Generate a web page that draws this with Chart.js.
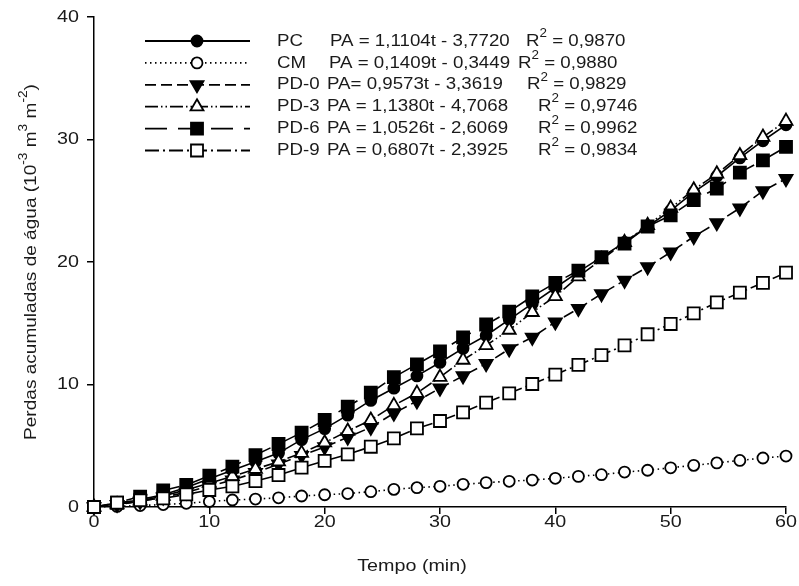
<!DOCTYPE html>
<html>
<head>
<meta charset="utf-8">
<script src="https://cdn.jsdelivr.net/npm/chart.js@4/dist/chart.umd.min.js"></script>
<style>
  html, body { margin: 0; padding: 0; background: #fff; }
</style>
</head>
<body>
<canvas id="perdasChart" width="799" height="586"></canvas>
<script>
// tempo (min) e perdas acumuladas (10^-3 m3 m-2)
const tempo = [0, 2, 4, 6, 8, 10, 12, 14, 16, 18, 20, 22, 24, 26, 28, 30, 32, 34, 36, 38, 40, 42, 44, 46, 48, 50, 52, 54, 56, 58, 60];
const pc   = [0, 0.25, 0.6, 1.0, 1.6, 2.3, 3.0, 3.7, 4.4, 5.5, 6.4, 7.5, 8.7, 9.7, 10.7, 11.8, 12.95, 14.0, 15.3, 16.6, 17.9, 19.2, 20.4, 21.6, 22.9, 24.2, 25.7, 27.0, 28.5, 29.9, 31.2];
const cm   = [0, 0.05, 0.12, 0.2, 0.3, 0.45, 0.57, 0.65, 0.75, 0.9, 1.0, 1.1, 1.25, 1.44, 1.58, 1.69, 1.85, 1.99, 2.1, 2.2, 2.34, 2.5, 2.64, 2.85, 3.0, 3.2, 3.4, 3.6, 3.8, 4.0, 4.16];
const pd0  = [0, 0.2, 0.45, 0.8, 1.2, 1.7, 2.2, 2.8, 3.5, 4.2, 4.9, 5.7, 6.5, 7.65, 8.65, 9.7, 10.7, 11.7, 12.9, 13.85, 15.1, 16.2, 17.4, 18.5, 19.6, 20.8, 22.07, 23.2, 24.4, 25.8, 26.8];
const pd3  = [0, 0.2, 0.5, 0.9, 1.4, 1.95, 2.5, 3.1, 3.7, 4.4, 5.25, 6.2, 7.1, 8.3, 9.3, 10.6, 12.0, 13.2, 14.45, 15.9, 17.2, 18.8, 20.2, 21.6, 23.0, 24.4, 25.9, 27.2, 28.7, 30.2, 31.5];
const pd6  = [0, 0.35, 0.85, 1.35, 1.8, 2.55, 3.3, 4.24, 5.14, 6.07, 7.1, 8.2, 9.33, 10.6, 11.65, 12.7, 13.85, 14.9, 15.95, 17.2, 18.3, 19.3, 20.4, 21.5, 22.9, 23.8, 25.06, 26.0, 27.3, 28.3, 29.4];
const pd9  = [0, 0.35, 0.55, 0.71, 1.03, 1.39, 1.69, 2.12, 2.61, 3.21, 3.76, 4.3, 4.92, 5.6, 6.42, 7.02, 7.73, 8.52, 9.28, 10.04, 10.8, 11.6, 12.4, 13.2, 14.1, 14.94, 15.8, 16.7, 17.5, 18.3, 19.13];

const xTicks = [0, 10, 20, 30, 40, 50, 60];
const yTicks = [0, 10, 20, 30, 40];

const nomes = ['PC', 'CM', 'PD-0', 'PD-3', 'PD-6', 'PD-9'];
const equacoes = ['PA = 1,1104t - 3,7720', 'PA = 0,1409t - 0,3449', 'PA= 0,9573t - 3,3619',
                  'PA = 1,1380t - 4,7068', 'PA = 1,0526t - 2,6069', 'PA = 0,6807t - 2,3925'];
const r2 = ['0,9870', '0,9880', '0,9829', '0,9746', '0,9962', '0,9834'];

// estilo de cada serie
const estilos = [
    { style: 'circle',   radius: 5.5, fill: '#000', dash: [],                     rot: 0 },
    { style: 'circle',   radius: 5.5, fill: '#fff', dash: [1.5, 3.5],             rot: 0 },
    { style: 'triangle', radius: 7.5, fill: '#000', dash: [11, 5],                rot: 180 },
    { style: 'triangle', radius: 7.5, fill: '#fff', dash: [13, 3, 1.5, 3, 1.5, 3], rot: 0 },
    { style: 'rect',     radius: 8.5, fill: '#000', dash: [22, 11],               rot: 0 },
    { style: 'rect',     radius: 8.5, fill: '#fff', dash: [14, 4, 2, 4],          rot: 0 }
];
const valores = [pc, cm, pd0, pd3, pd6, pd9];

const FONTE = '"Liberation Sans", Arial, sans-serif';
const ESTICA = 1.16;   // letras dos eixos sao mais largas na figura
const ESTICA_LEG = 1.1;

function texto(ctx, partes, x, y, size, sx, align) {
    ctx.save();
    ctx.translate(x, y);
    ctx.scale(sx, 1);
    ctx.textBaseline = 'middle';
    ctx.textAlign = 'left';
    let total = 0;
    const larguras = partes.map(function (p) {
        ctx.font = (p[1] ? size * 0.72 : size) + 'px ' + FONTE;
        const w = ctx.measureText(p[0]).width;
        total += w;
        return w;
    });
    let cx = align === 'center' ? -total / 2 : (align === 'right' ? -total : 0);
    partes.forEach(function (p, i) {
        ctx.font = (p[1] ? size * 0.72 : size) + 'px ' + FONTE;
        ctx.fillText(p[0], cx, p[1] ? -size * 0.45 : 0);
        cx += larguras[i];
    });
    ctx.restore();
}

const textos = {
    id: 'textos',
    afterDraw(chart) {
        const ctx = chart.ctx;
        const sx = chart.scales.x, sy = chart.scales.y;
        ctx.save();
        ctx.fillStyle = '#1a1a1a';
        yTicks.forEach(function (v) {
            texto(ctx, [[String(v)]], 79, sy.getPixelForValue(v), 17, ESTICA, 'right');
        });
        xTicks.forEach(function (v) {
            texto(ctx, [[String(v)]], sx.getPixelForValue(v), 522, 17, ESTICA, 'center');
        });
        texto(ctx, [['Tempo (min)']], 412, 566, 17, ESTICA, 'center');

        ctx.save();
        ctx.translate(31, 262);
        ctx.rotate(-Math.PI / 2);
        texto(ctx, [['Perdas acumuladas de água (10'], ['-3', true], [' m'], ['3', true], [' m'], ['-2', true], [')']],
              0, 0, 17, 1.12, 'center');
        ctx.restore();

        // legenda
        const eqX = [330, 329, 327, 327, 327, 327];
        const rX = [526, 518, 527, 538, 538, 538];
        nomes.forEach(function (nome, i) {
            const y = 41 + i * 21.9;
            const e = estilos[i];
            ctx.save();
            ctx.strokeStyle = '#000';
            ctx.lineWidth = 1.8;
            ctx.setLineDash(e.dash);
            ctx.beginPath();
            ctx.moveTo(145, y);
            ctx.lineTo(250, y);
            ctx.stroke();
            ctx.setLineDash([]);
            ctx.fillStyle = e.fill;
            ctx.lineWidth = 1.8;
            Chart.helpers.drawPoint(ctx, { pointStyle: e.style, radius: e.radius, rotation: e.rot, borderWidth: 1.8 }, 197, y);
            ctx.restore();
            ctx.fillStyle = '#1a1a1a';
            texto(ctx, [[nome]], 277, y, 17, ESTICA_LEG, 'left');
            texto(ctx, [[equacoes[i]]], eqX[i], y, 17, ESTICA_LEG, 'left');
            texto(ctx, [['R'], ['2', true], [' = ' + r2[i]]], rX[i], y, 17, ESTICA_LEG, 'left');
        });
        ctx.restore();
    }
};

const datasets = valores.map(function (vals, i) {
    const e = estilos[i];
    return {
        label: nomes[i],
        data: tempo.map(function (t, k) { return { x: t, y: vals[k] }; }),
        borderColor: '#000',
        borderWidth: 1.6,
        borderDash: e.dash,
        pointStyle: e.style,
        pointRadius: e.radius,
        pointRotation: e.rot,
        pointBackgroundColor: e.fill,
        pointBorderColor: '#000',
        pointBorderWidth: 1.8,
        tension: 0,
        clip: false,
        order: 6 - i
    };
});

const eixo = function (min, max, ticks, fit) {
    return {
        type: 'linear',
        min: min,
        max: max,
        afterBuildTicks: function (s) { s.ticks = ticks.map(function (v) { return { value: v }; }); },
        afterFit: fit,
        ticks: { display: false },
        grid: { drawOnChartArea: false, drawTicks: true, tickLength: 7, color: '#000', lineWidth: 1.5 },
        border: { color: '#000', width: 1.5 }
    };
};

const ctx = document.getElementById('perdasChart').getContext('2d');
const grafico = new Chart(ctx, {
    type: 'line',
    data: { datasets: datasets },
    options: {
        responsive: false,
        animation: false,
        layout: { padding: { top: 17, right: 13, bottom: 0, left: 0 } },
        plugins: { legend: { display: false }, tooltip: { enabled: false } },
        scales: {
            x: eixo(0, 60, xTicks, function (s) { s.height = 79; }),
            y: eixo(0, 40, yTicks, function (s) { s.width = 94; })
        }
    },
    plugins: [textos]
});
</script>
</body>
</html>
